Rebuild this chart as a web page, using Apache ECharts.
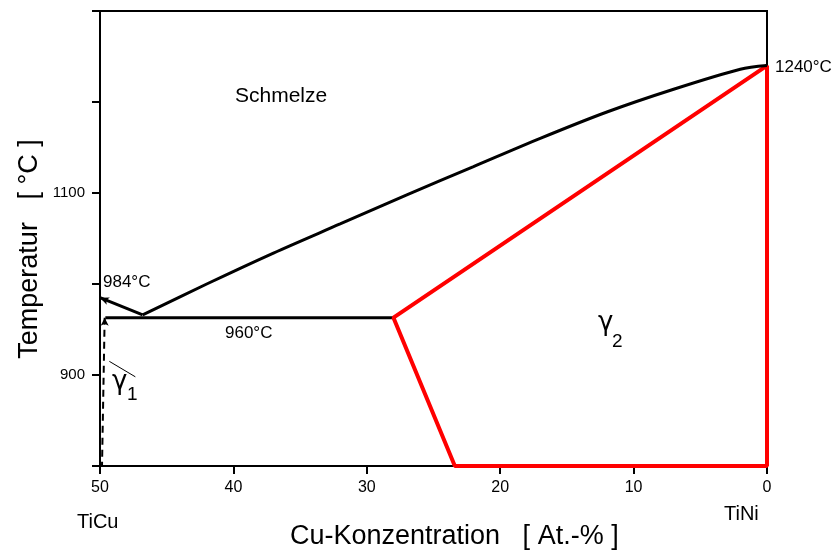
<!DOCTYPE html>
<html>
<head>
<meta charset="utf-8">
<script src="https://cdn.jsdelivr.net/npm/echarts@6/dist/echarts.min.js"></script>
<style>html,body{margin:0;padding:0;background:#fff}#c{width:836px;height:551px}</style>
</head>
<body>
<div id="c"></div>
<script>
// Liquidus (Schmelze boundary)
const liqLeftX = [50, 46.8];
const liqLeftT = [985, 966];
const liqX = [46.8, 42, 37, 32, 27, 22, 17, 12, 7, 2, 0];
const liqT = [966, 1000, 1034, 1066, 1098, 1129, 1160, 1189, 1214, 1236, 1240];
// Eutectic horizontal (960 °C)
const eutX = [49.6, 28];
const eutT = [963, 963];
// gamma2 region (red)
const g2X = [0, 28, 23.4, 0, 0];
const g2T = [1240, 963, 800, 800, 1240];
// gamma1 boundary (dashed)
const g1X = [49.65, 49.85];
const g1T = [963, 800];
// gamma1 pointer
const ptrX = [49.3, 47.35];
const ptrT = [915, 898];
// labelled y ticks
const yLabels = [900, 1100];

const pair = (xs, ys) => xs.map((x, i) => [x, ys[i]]);
const FONT = '"Liberation Sans", Arial, sans-serif';
const GFONT = '"DejaVu Sans", sans-serif';

const chart = echarts.init(document.getElementById('c'), null, {renderer: 'canvas'});
const leftData = pair(liqLeftX, liqLeftT);
leftData[0] = {value: leftData[0], symbol: 'arrow', symbolSize: [6, 9], symbolRotate: 67};
const g1Data = pair(g1X, g1T);
g1Data[0] = {value: g1Data[0], symbol: 'arrow', symbolSize: [6, 8], symbolRotate: 0};

const txt = (x, y, text, size, font) => ({
  type: 'text', x: x, y: y,
  style: {text: text, font: size + 'px ' + (font || FONT), fill: '#000', verticalAlign: 'middle', align: 'left'}
});

chart.setOption({
  animation: false,
  backgroundColor: '#fff',
  grid: {left: 100, right: 69, top: 11, bottom: 85, show: true, borderColor: '#000', borderWidth: 2},
  xAxis: {
    type: 'value', min: 0, max: 50, interval: 10, inverse: true,
    axisLine: {show: true, onZero: false, lineStyle: {color: '#000', width: 2}},
    axisTick: {show: true, length: 8, lineStyle: {color: '#000', width: 2}},
    axisLabel: {color: '#000', fontSize: 16, fontFamily: FONT, margin: 14},
    splitLine: {show: false}
  },
  yAxis: {
    type: 'value', min: 800, max: 1300, interval: 100,
    axisLine: {show: true, onZero: false, lineStyle: {color: '#000', width: 2}},
    axisTick: {show: true, length: 8, lineStyle: {color: '#000', width: 2}},
    axisLabel: {color: '#000', fontSize: 15, fontFamily: FONT, margin: 15,
      formatter: v => yLabels.includes(v) ? String(v) : ''},
    splitLine: {show: false}
  },
  series: [
    {type: 'line', data: pair(g2X, g2T), symbol: 'none', lineStyle: {color: '#ff0000', width: 4}, z: 3},
    {type: 'line', data: pair(liqX, liqT), symbol: 'none', smooth: 0.3, lineStyle: {color: '#000', width: 3}, z: 4},
    {type: 'line', data: leftData, symbol: 'none', itemStyle: {color: '#000'}, lineStyle: {color: '#000', width: 3}, z: 4},
    {type: 'line', data: pair(eutX, eutT), symbol: 'none', lineStyle: {color: '#000', width: 3}, z: 2},
    {type: 'line', data: g1Data, symbol: 'none', itemStyle: {color: '#000'}, lineStyle: {color: '#000', width: 2, type: [7, 5]}, z: 4},
    {type: 'line', data: pair(ptrX, ptrT), symbol: 'none', lineStyle: {color: '#000', width: 1}, z: 4}
  ],
  graphic: [
    txt(235, 96, 'Schmelze', 21),
    txt(103, 282, '984°C', 17),
    txt(225, 333, '960°C', 17),
    txt(775, 67, '1240°C', 17),
    txt(112, 382, 'γ', 26, GFONT),
    txt(127, 395, '1', 19),
    txt(598, 323, 'γ', 26, GFONT),
    txt(612, 342, '2', 19),
    txt(77, 522, 'TiCu', 20),
    txt(724, 514, 'TiNi', 20),
    txt(290, 537, 'Cu-Konzentration   [ At.-% ]', 27),
    {type: 'text', x: 30, y: 249, rotation: Math.PI / 2,
      style: {text: 'Temperatur   [ °C ]', font: '27px ' + FONT, fill: '#000', align: 'center', verticalAlign: 'middle'}}
  ]
});
</script>
</body>
</html>
